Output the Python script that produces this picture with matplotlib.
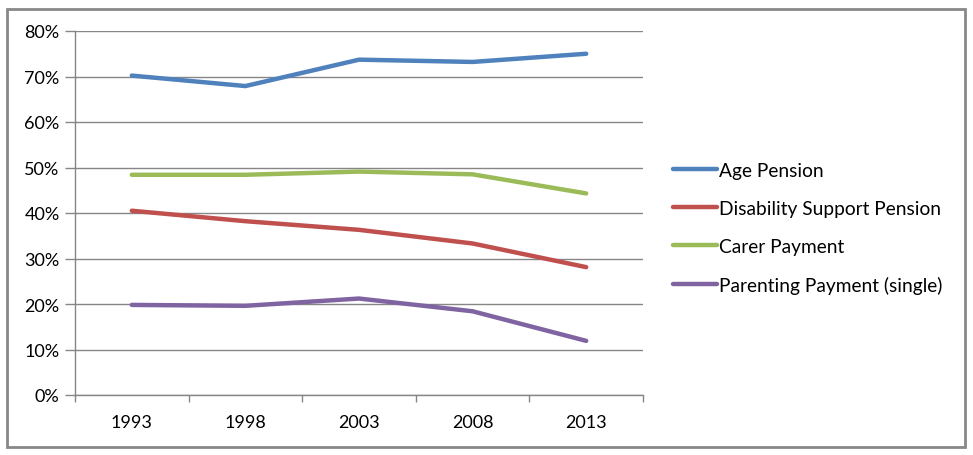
import matplotlib
matplotlib.use('Agg')
from matplotlib import pyplot as plt
from matplotlib.patches import Rectangle
from matplotlib.ticker import FixedLocator, PercentFormatter

years = ['1993', '1998', '2003', '2008', '2013']
age_pension = [70.2, 67.9, 73.7, 73.2, 75.0]
disability = [40.5, 38.2, 36.3, 33.3, 28.1]
carer = [48.4, 48.4, 49.1, 48.5, 44.3]
parenting = [19.8, 19.6, 21.2, 18.4, 11.9]

series = [
  ('Age Pension', age_pension, '#4F81BD'),
  ('Disability Support Pension', disability, '#C0504D'),
  ('Carer Payment', carer, '#9BBB59'),
  ('Parenting Payment (single)', parenting, '#8064A2'),
]

plt.rcParams['font.family'] = ['Lato', 'DejaVu Sans']

fig = plt.figure(figsize=(9.73, 4.56), dpi=100)
ax = fig.add_axes([75 / 973, 1 - 396 / 456, (643 - 75) / 973, (396 - 32) / 456])

x = list(range(len(years)))
for name, vals, col in series:
  ax.plot(x, vals, color=col, lw=3.2, label=name, solid_capstyle='round')

grey = '#868686'
ax.set_xlim(-0.5, len(years) - 0.5)
ax.set_ylim(0, 80)
ax.set_yticks(range(0, 81, 10))
ax.yaxis.set_major_formatter(PercentFormatter(decimals=0))
ax.grid(axis='y', color=grey, lw=1)
ax.set_axisbelow(True)

ax.set_xticks(x)
ax.set_xticklabels(years)
ax.xaxis.set_minor_locator(FixedLocator([i - 0.5 for i in range(len(years) + 1)]))
ax.tick_params(axis='x', which='major', length=0, pad=14, labelsize=13)
ax.tick_params(axis='x', which='minor', length=5, color=grey, width=1)
ax.tick_params(axis='y', length=7, color=grey, width=1, pad=4, labelsize=13)

for s in ['top', 'right']:
  ax.spines[s].set_visible(False)
for s in ['left', 'bottom']:
  ax.spines[s].set_color(grey)
  ax.spines[s].set_linewidth(1)

fig.legend(loc='center left', bbox_to_anchor=(673 / 973, 1 - 229 / 456), frameon=False,
           fontsize=13.8, handlelength=2.3, handletextpad=0.1, labelspacing=1.1,
           borderpad=0, borderaxespad=0)

fig.patches.append(Rectangle((7 / 973, 1 - 448 / 456), (965 - 7) / 973, (448 - 10) / 456,
                             transform=fig.transFigure, fill=False, edgecolor='#888888', lw=2))

fig.savefig('out.png', dpi=100)
